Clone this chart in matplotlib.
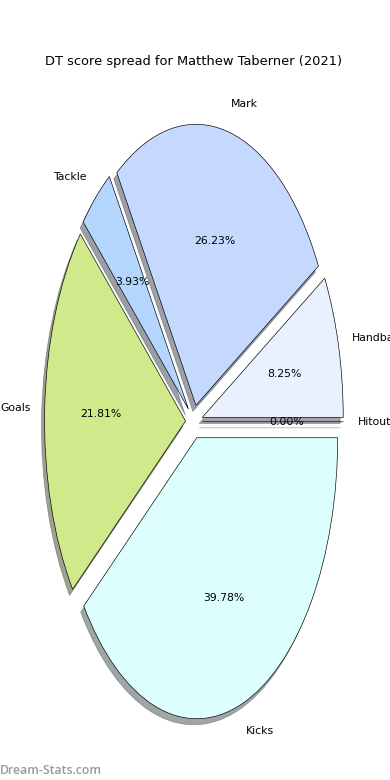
import matplotlib
matplotlib.use("Agg")
import matplotlib.pyplot as plt

labels = ["Hitout", "Handball", "Mark", "Tackle", "Goals", "Kicks"]
values = [0.00, 8.25, 26.23, 3.93, 21.81, 39.78]
colors = ["#d0d0d0", "#eaf1fe", "#c5d9fe", "#b3d5fe", "#d0ea8b", "#dcfffe"]
explode = [0.06] * len(values)
title = "DT score spread for Matthew Taberner (2021)"
watermark = "Dream-Stats.com"

fig = plt.figure(figsize=(5, 10), dpi=78)
ax = fig.add_axes([0.0455, 0.009, 0.904, 0.9006])
ax.pie(values, labels=labels, colors=colors, explode=explode, shadow=True,
       autopct="%1.2f%%", startangle=0, counterclock=True,
       wedgeprops={"edgecolor": "black", "linewidth": 0.6})
ax.set_aspect("auto")
ax.set_xlim(-1.25, 1.25)
ax.set_ylim(-1.25, 1.25)
ax.set_title(title, fontsize=12, pad=5)
fig.text(0.0, 0.0125, watermark, color="#999999", fontsize=11.3,
         family="Open Sans", fontweight="semibold", ha="left", va="center")
fig.savefig("out.png", dpi=78)
